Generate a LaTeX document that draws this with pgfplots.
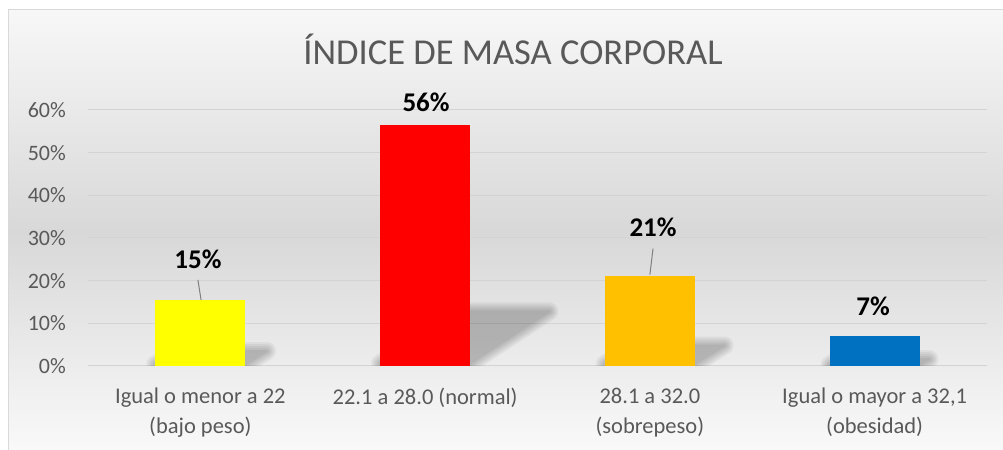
\documentclass[border=0pt]{standalone}
\usepackage{pgfplots}
\pgfplotsset{compat=1.18}
\usepackage{fontspec}
\setmainfont{Carlito}
\definecolor{txt}{HTML}{595959}
\definecolor{gridc}{HTML}{D3D3D3}
\definecolor{framec}{HTML}{D9D9D9}
\definecolor{bgmid}{HTML}{D8D8D8}
\definecolor{cyel}{HTML}{FFFF00}
\definecolor{cred}{HTML}{FF0000}
\definecolor{corg}{HTML}{FFC000}
\definecolor{cblu}{HTML}{0070C0}
\definecolor{leader}{HTML}{7F7F7F}
\newcommand\shlayer[2]{%
  \begin{scope}[transparency group, opacity=0.05]
    \path[fill=black, draw=black, line width=#1, line join=round] #2;
  \end{scope}}
\newcommand\shadowpoly[1]{%
  \shlayer{18bp}{#1}\shlayer{14bp}{#1}\shlayer{10bp}{#1}\shlayer{6bp}{#1}\shlayer{2bp}{#1}}
\begin{document}
\begin{tikzpicture}[x=1bp,y=1bp]
\useasboundingbox (0,0) rectangle (1003,450);
\begin{scope}
\clip (0,0) rectangle (1003,450);
\shade[top color=white!97!black, bottom color=white!98!black, middle color=bgmid] (8,-5) rectangle (1010,440);
\draw[framec, line width=1bp] (8,-5) rectangle (1010,440);
\end{scope}
\node[txt, font=\fontsize{36.5bp}{40bp}\selectfont, anchor=base] at (513,385) {ÍNDICE DE MASA CORPORAL};
\begin{axis}[
  at={(88bp,84bp)}, anchor=south west, scale only axis,
  width=899bp, height=256bp,
  xmin=-0.5, xmax=3.5, ymin=0, ymax=0.6,
  ytick={0,0.1,0.2,0.3,0.4,0.5,0.6},
  yticklabels={0\%,10\%,20\%,30\%,40\%,50\%,60\%},
  xtick={0,1,2,3},
  xticklabels={{Igual o menor a 22\\(bajo peso)},{22.1 a 28.0 (normal)},{28.1 a 32.0\\(sobrepeso)},{Igual o mayor a 32,1\\(obesidad)}},
  axis line style={draw=none},
  major tick length=0pt,
  ymajorgrids,
  grid style={gridc, line width=1bp},
  yticklabel style={font=\fontsize{22bp}{26bp}\selectfont, text=txt, anchor=east, inner sep=0pt, xshift=-22bp},
  xticklabel style={font=\fontsize{22.5bp}{30bp}\selectfont, text=txt, align=center, anchor=north, inner sep=0pt, yshift=-22bp},
  /pgf/number format/assume math mode=true,
  clip=false,
  ybar, bar width=0.4, bar shift=0pt,
]
% perspective shadows (decoration), clipped at the base line
\begin{scope}
\clip (-0.5,0) rectangle (3.5,0.6);
\shadowpoly{(-0.2,0.004) -- (0.2,0.004) -- (0.296,0.035) -- (-0.104,0.035) -- cycle}
\shadowpoly{(0.8,0.006) -- (1.2,0.006) -- (1.552,0.128) -- (1.152,0.128) -- cycle}
\shadowpoly{(1.8,0.005) -- (2.2,0.005) -- (2.332,0.048) -- (1.932,0.048) -- cycle}
\shadowpoly{(2.8,0.003) -- (3.2,0.003) -- (3.244,0.016) -- (2.844,0.016) -- cycle}
\end{scope}
% bars
\addplot[fill=cyel, draw=none] coordinates {(0,0.154)};
\addplot[fill=cred, draw=none] coordinates {(1,0.564)};
\addplot[fill=corg, draw=none] coordinates {(2,0.212)};
\addplot[fill=cblu, draw=none] coordinates {(3,0.070)};
% data labels
\draw[leader, line width=1bp] (-0.011,0.202) -- (0.003,0.155);
\draw[leader, line width=1bp] (2.014,0.275) -- (2.0,0.214);
\node[font=\bfseries\fontsize{27bp}{30bp}\selectfont] at (-0.011,0.249) {15\%};
\node[font=\bfseries\fontsize{27bp}{30bp}\selectfont] at (1.004,0.619) {56\%};
\node[font=\bfseries\fontsize{27bp}{30bp}\selectfont] at (2.014,0.325) {21\%};
\node[font=\bfseries\fontsize{27bp}{30bp}\selectfont] at (2.993,0.139) {7\%};
\end{axis}
\end{tikzpicture}
\end{document}
